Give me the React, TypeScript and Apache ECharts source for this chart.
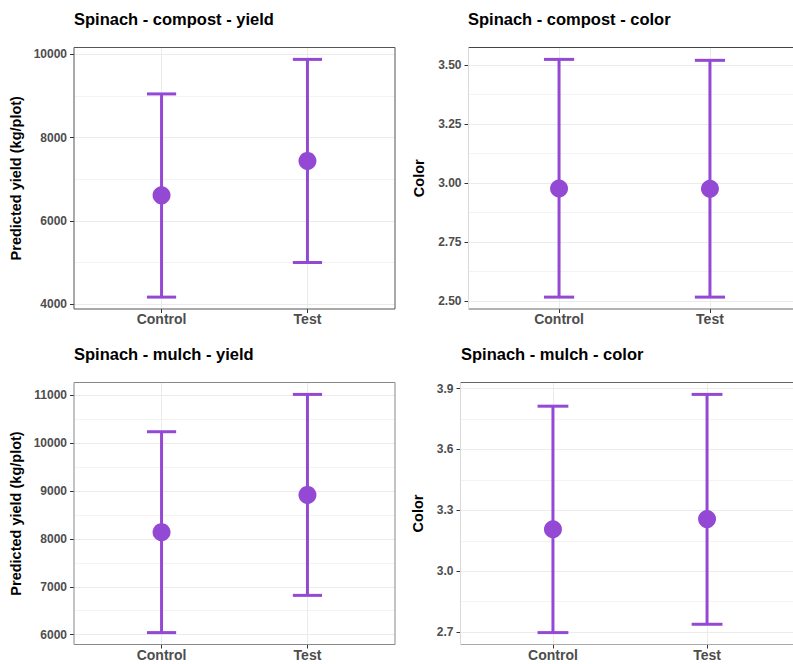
import React, { useEffect, useRef } from "react";
import * as echarts from "echarts";

// ---- data ----
const categories = ["Control", "Test"];

const titles = [
  "Spinach - compost - yield",
  "Spinach - compost - color",
  "Spinach - mulch - yield",
  "Spinach - mulch - color",
];
const yTitles = ["Predicted yield (kg/plot)", "Color", "Predicted yield (kg/plot)", "Color"];

// means, lower and upper bounds per panel (Control, Test)
const compostYieldMean = [6613, 7440];
const compostYieldLow = [4174, 5004];
const compostYieldHigh = [9045, 9873];

const compostColorMean = [2.977, 2.976];
const compostColorLow = [2.517, 2.517];
const compostColorHigh = [3.524, 3.520];

const mulchYieldMean = [8142, 8920];
const mulchYieldLow = [6042, 6820];
const mulchYieldHigh = [10241, 11021];

const mulchColorMean = [3.207, 3.257];
const mulchColorLow = [2.698, 2.739];
const mulchColorHigh = [3.813, 3.871];

// tick labels
const compostYieldTicks = [4000, 6000, 8000, 10000];
const compostYieldMinor = [5000, 7000, 9000];
const compostColorTicks = [2.5, 2.75, 3.0, 3.25, 3.5];
const compostColorMinor = [2.625, 2.875, 3.125, 3.375];
const mulchYieldTicks = [6000, 7000, 8000, 9000, 10000, 11000];
const mulchYieldMinor = [6500, 7500, 8500, 9500, 10500];
const mulchColorTicks = [2.7, 3.0, 3.3, 3.6, 3.9];
const mulchColorMinor = [2.85, 3.15, 3.45, 3.75];

const PURPLE = "#9449d4";
const FONT = "'Liberation Sans', Arial, Helvetica, sans-serif";

type Panel = {
  mean: number[];
  low: number[];
  high: number[];
  ticks: number[];
  minor: number[];
  fmt: (v: number) => string;
  rect: { left: number; top: number; width: number; height: number };
  nameGap: number;
  titlePos: { left: number; top: number };
};

const panels: Panel[] = [
  {
    mean: compostYieldMean, low: compostYieldLow, high: compostYieldHigh,
    ticks: compostYieldTicks, minor: compostYieldMinor,
    fmt: (v) => String(Math.round(v)),
    rect: { left: 74, top: 47.5, width: 321, height: 261.5 },
    nameGap: 51,
    titlePos: { left: 74, top: 10 },
  },
  {
    mean: compostColorMean, low: compostColorLow, high: compostColorHigh,
    ticks: compostColorTicks, minor: compostColorMinor,
    fmt: (v) => v.toFixed(2),
    rect: { left: 468.5, top: 47.5, width: 332, height: 261.5 },
    nameGap: 42,
    titlePos: { left: 468, top: 10 },
  },
  {
    mean: mulchYieldMean, low: mulchYieldLow, high: mulchYieldHigh,
    ticks: mulchYieldTicks, minor: mulchYieldMinor,
    fmt: (v) => String(Math.round(v)),
    rect: { left: 74, top: 382.5, width: 321, height: 262 },
    nameGap: 51,
    titlePos: { left: 74, top: 345 },
  },
  {
    mean: mulchColorMean, low: mulchColorLow, high: mulchColorHigh,
    ticks: mulchColorTicks, minor: mulchColorMinor,
    fmt: (v) => v.toFixed(1),
    rect: { left: 460.5, top: 382.5, width: 339, height: 262 },
    nameGap: 35,
    titlePos: { left: 461, top: 345 },
  },
];

function buildOption() {
  const grid: any[] = [];
  const xAxis: any[] = [];
  const yAxis: any[] = [];
  const series: any[] = [];
  const title: any[] = [];
  const graphic: any[] = [];

  panels.forEach((p, i) => {
    const lo = Math.min(...p.low);
    const hi = Math.max(...p.high);
    const pad = (hi - lo) * 0.05;
    const yMin = lo - pad;
    const yMax = hi + pad;

    grid.push({
      left: p.rect.left, top: p.rect.top, width: p.rect.width, height: p.rect.height,
      containLabel: false, outerBoundsMode: "none",
    });
    title.push({
      text: titles[i], left: p.titlePos.left, top: p.titlePos.top, padding: 0,
      textStyle: { fontFamily: FONT, fontSize: 16.5, fontWeight: "bold", color: "#000" },
    });

    xAxis.push({
      type: "value", gridIndex: i, min: 0.4, max: 2.6,
      axisLine: { show: false },
      axisTick: { show: true, length: 4, customValues: [1, 2], lineStyle: { color: "#333", width: 1 } },
      axisLabel: {
        show: true, customValues: [1, 2], margin: 3,
        formatter: (v: number) => categories[Math.round(v) - 1] ?? "",
        fontFamily: FONT, fontSize: 14, fontWeight: "bold", color: "#4d4d4d",
      },
      splitLine: { show: true, lineStyle: { color: "#ebebeb", width: 1 } },
    });

    yAxis.push({
      type: "value", gridIndex: i, min: yMin, max: yMax, position: "left",
      name: yTitles[i], nameLocation: "middle", nameGap: p.nameGap, nameRotate: 90,
      nameTextStyle: { fontFamily: FONT, fontSize: 14.5, fontWeight: "bold", color: "#000" },
      axisLine: { show: false },
      axisTick: { show: true, length: 4, customValues: p.ticks, lineStyle: { color: "#333", width: 1 } },
      axisLabel: {
        show: true, customValues: p.ticks, margin: 7,
        formatter: (v: number) => p.fmt(v),
        fontFamily: FONT, fontSize: 12, fontWeight: "bold", color: "#4d4d4d",
      },
      splitLine: { show: true, lineStyle: { color: "#ebebeb", width: 1 } },
    });
    yAxis.push({
      type: "value", gridIndex: i, min: yMin, max: yMax, position: "left",
      axisLine: { show: false },
      axisTick: { show: false, customValues: p.minor },
      axisLabel: { show: false, customValues: p.minor },
      splitLine: { show: true, lineStyle: { color: "#f3f3f3", width: 1 } },
    });

    const errData = categories.map((_, k) => [k + 1, p.low[k], p.high[k]]);
    series.push({
      type: "custom",
      xAxisIndex: i,
      yAxisIndex: i * 2,
      data: errData,
      encode: { x: 0, y: [1, 2] },
      renderItem: (params: any, api: any) => {
        const x = api.value(0);
        const a = api.coord([x, api.value(1)]);
        const b = api.coord([x, api.value(2)]);
        const hw = api.size([0.1, 0])[0];
        const st = { stroke: PURPLE, lineWidth: 3 };
        return {
          type: "group",
          children: [
            { type: "line", shape: { x1: a[0], y1: a[1], x2: b[0], y2: b[1] }, style: st },
            { type: "line", shape: { x1: a[0] - hw, y1: a[1], x2: a[0] + hw, y2: a[1] }, style: st },
            { type: "line", shape: { x1: b[0] - hw, y1: b[1], x2: b[0] + hw, y2: b[1] }, style: st },
          ],
        };
      },
      z: 2,
    });
    series.push({
      type: "scatter",
      xAxisIndex: i,
      yAxisIndex: i * 2,
      data: categories.map((_, k) => [k + 1, p.mean[k]]),
      symbol: "circle",
      symbolSize: 18,
      itemStyle: { color: PURPLE, opacity: 1 },
      z: 3,
    });
  });

  // panel borders
  const r = panels.map((p) => p.rect);
  graphic.push(
    { type: "rect", shape: { x: r[0].left, y: r[0].top, width: r[0].width, height: r[0].height }, style: { fill: "none", stroke: "#555", lineWidth: 1 }, z: 10, silent: true },
    { type: "rect", shape: { x: r[2].left, y: r[2].top, width: r[2].width, height: r[2].height }, style: { fill: "none", stroke: "#888", lineWidth: 1 }, z: 10, silent: true },
    { type: "line", shape: { x1: r[1].left, y1: r[1].top, x2: 793, y2: r[1].top }, style: { stroke: "#444", lineWidth: 1 }, z: 10, silent: true },
    { type: "line", shape: { x1: r[1].left, y1: r[1].top + r[1].height, x2: 793, y2: r[1].top + r[1].height }, style: { stroke: "#666", lineWidth: 1 }, z: 10, silent: true },
    { type: "line", shape: { x1: r[1].left, y1: r[1].top, x2: r[1].left, y2: r[1].top + r[1].height }, style: { stroke: "#d9d9d9", lineWidth: 1 }, z: 10, silent: true },
    { type: "line", shape: { x1: r[3].left, y1: r[3].top, x2: 793, y2: r[3].top }, style: { stroke: "#666", lineWidth: 1 }, z: 10, silent: true },
    { type: "line", shape: { x1: r[3].left, y1: r[3].top + r[3].height, x2: 793, y2: r[3].top + r[3].height }, style: { stroke: "#aaa", lineWidth: 1 }, z: 10, silent: true },
    { type: "line", shape: { x1: r[3].left, y1: r[3].top, x2: r[3].left, y2: r[3].top + r[3].height }, style: { stroke: "#d9d9d9", lineWidth: 1 }, z: 10, silent: true }
  );

  return {
    animation: false,
    backgroundColor: "#ffffff",
    textStyle: { fontFamily: FONT },
    title,
    grid,
    xAxis,
    yAxis,
    series,
    graphic,
  };
}

export default function App() {
  const ref = useRef<HTMLDivElement>(null);
  useEffect(() => {
    if (!ref.current) return;
    const chart = echarts.init(ref.current, undefined, { renderer: "svg" });
    chart.setOption(buildOption() as any);
    return () => chart.dispose();
  }, []);
  return (
    <div
      ref={ref}
      style={{ position: "absolute", left: 0, top: 0, width: 793, height: 664, background: "#fff" }}
    />
  );
}
